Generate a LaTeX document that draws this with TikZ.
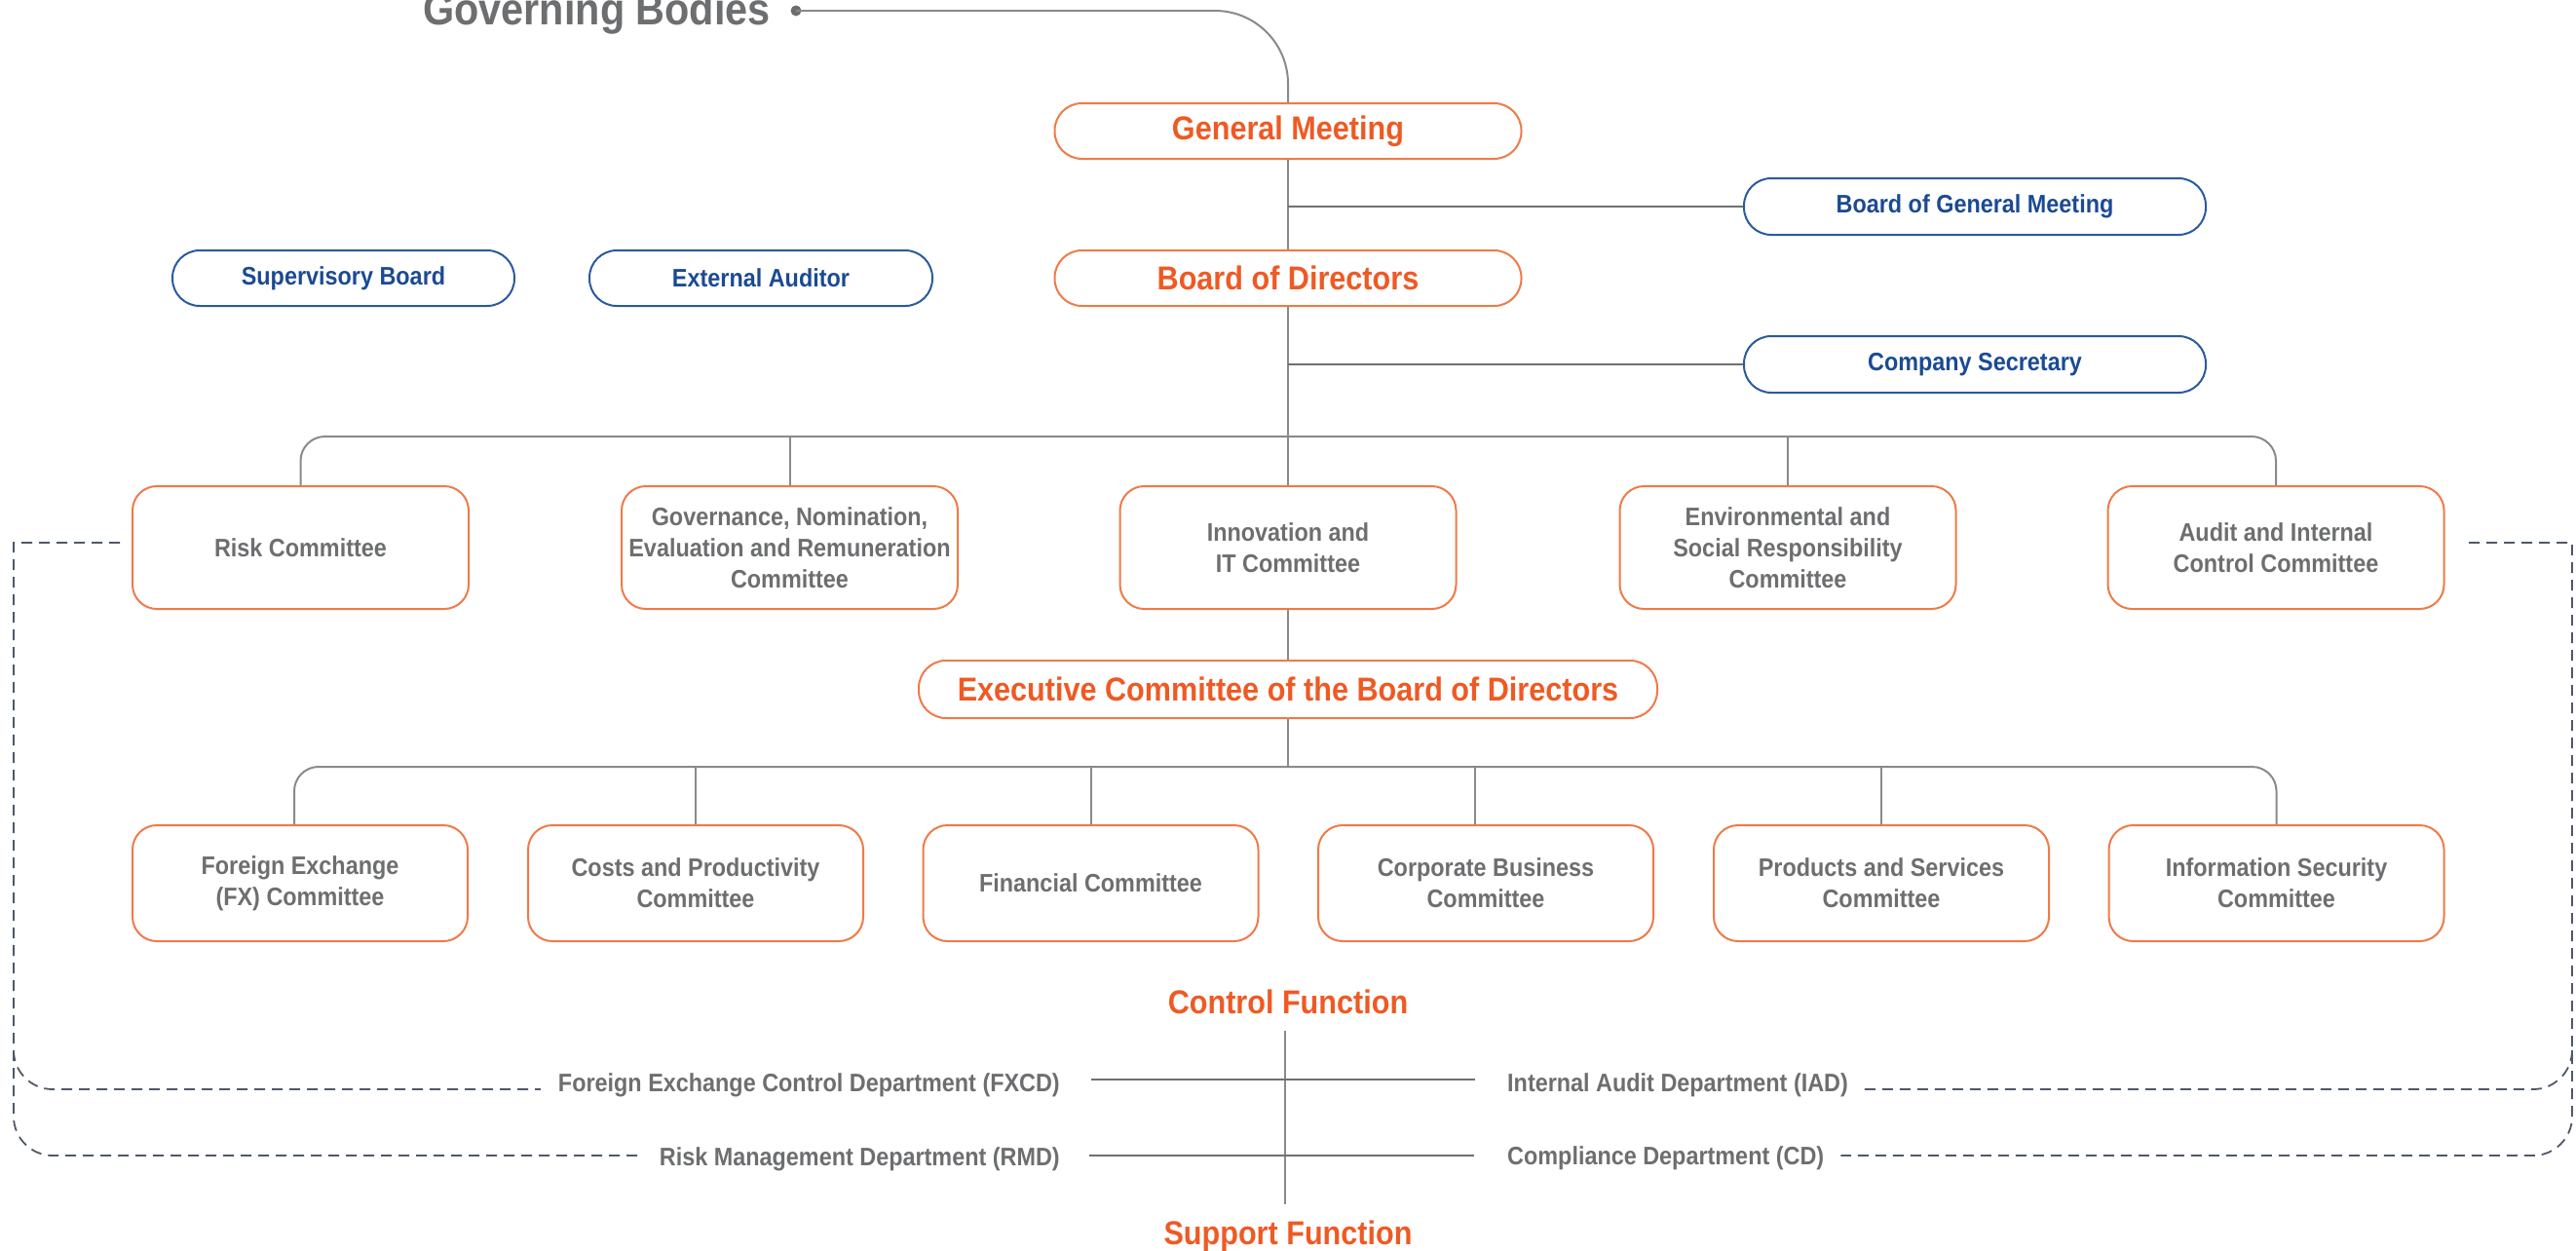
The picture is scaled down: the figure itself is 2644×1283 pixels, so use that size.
\documentclass[tikz,border=0pt]{standalone}
\usepackage{fontspec}
\setmainfont{Liberation Sans}[FakeStretch=0.9]
\usetikzlibrary{calc}
\definecolor{orgtxt}{HTML}{EE5A24}
\definecolor{orgline}{HTML}{F07A48}
\definecolor{bluetxt}{HTML}{1B4A93}
\definecolor{blueline}{HTML}{2A5AA0}
\definecolor{greytxt}{HTML}{6D6E70}
\definecolor{conn}{HTML}{8A8A8A}
\definecolor{conndark}{HTML}{707070}
\definecolor{dashc}{HTML}{4F5869}

\begin{document}
\begin{tikzpicture}[x=1pt,y=-1pt,
  headpill/.style={draw=orgline, line width=2pt, rounded corners=28pt,
    minimum width=479pt, minimum height=57pt, inner sep=0pt,
    text=orgtxt, font=\fontsize{34}{40}\selectfont\bfseries},
  bluepill/.style={draw=blueline, line width=2pt, rounded corners=28pt,
    minimum width=474pt, minimum height=58pt, inner sep=0pt,
    text=bluetxt, font=\fontsize{26}{32}\selectfont\bfseries},
  cbox/.style={draw=orgline, line width=2pt, rounded corners=25pt,
    minimum width=345pt, minimum height=126pt, inner sep=0pt, align=center,
    text=greytxt, font=\fontsize{26}{32}\selectfont\bfseries},
  lbox/.style={cbox, minimum width=344pt, minimum height=119pt},
  heading/.style={text=orgtxt, inner sep=0pt, font=\fontsize{34}{40}\selectfont\bfseries},
  dept/.style={text=greytxt, inner sep=0pt, font=\fontsize{26}{32}\selectfont\bfseries},
  link/.style={draw=conn, line width=2pt},
  linkdark/.style={draw=conndark, line width=2.2pt},
  dashlink/.style={draw=dashc, line width=1.8pt, dash pattern=on 11pt off 7pt},
]
\useasboundingbox (0,0) rectangle (2644,1283);

% title with its marker dot
\node[anchor=base east, inner sep=0pt, text=greytxt,
      font=\fontsize{46}{52}\selectfont\bfseries] (gb) at (791,25) {Governing Bodies};
\node[circle, fill=greytxt, inner sep=0pt, minimum size=11pt] (gbdot) at (817,11) {};

% top of the hierarchy
\node[headpill] (gm)  at (1322,134.5) {General Meeting};
\node[headpill] (bod) at (1322,285.5) {Board of Directors};
\node[bluepill] (bogm) at (2027,212) {Board of General Meeting};
\node[bluepill] (cosec) at (2027,374) {Company Secretary};
\node[bluepill, minimum width=351pt, minimum height=57pt] (sup) at (352.5,285.5) {Supervisory Board};
\node[bluepill, minimum width=352pt, minimum height=57pt] (ext) at (781,285.5) {External Auditor};

% board committees
\node[cbox] (risk)  at (308.5,562) {Risk Committee};
\node[cbox] (gov)   at (810.5,562) {Governance, Nomination,\\Evaluation and Remuneration\\Committee};
\node[cbox] (innov) at (1322,562) {Innovation and\\IT Committee};
\node[cbox] (env)   at (1835,562) {Environmental and\\Social Responsibility\\Committee};
\node[cbox] (audit) at (2336,562) {Audit and Internal\\Control Committee};

% executive committee and its committees
\node[headpill, minimum width=758pt, minimum height=59pt] (exec) at (1322,707.5) {Executive Committee of the Board of Directors};
\node[lbox] (fx)    at (308,906.5)  {Foreign Exchange\\(FX) Committee};
\node[lbox] (costs) at (714,906.5)  {Costs and Productivity\\Committee};
\node[lbox] (fin)   at (1119.5,906.5) {Financial Committee};
\node[lbox] (corp)  at (1525,906.5) {Corporate Business\\Committee};
\node[lbox] (prod)  at (1931,906.5) {Products and Services\\Committee};
\node[lbox] (infos) at (2336.5,906.5) {Information Security\\Committee};

% control / support functions
\node[heading, anchor=base] (ctrl) at (1322,1040) {Control Function};
\node[heading, anchor=base] (supp) at (1322,1277) {Support Function};
\node[dept, anchor=base east] (fxcd) at (1088,1120) {Foreign Exchange Control Department (FXCD)};
\node[dept, anchor=base east] (rmd)  at (1088,1196) {Risk Management Department (RMD)};
\node[dept, anchor=base west] (iad)  at (1547,1120) {Internal Audit Department (IAD)};
\node[dept, anchor=base west] (cd)   at (1547,1195) {Compliance Department (CD)};

% junction points
\coordinate (busA) at (1322,448);
\coordinate (busB) at (1322,787);
\coordinate (axTop) at (1319,1058);
\coordinate (axBot) at (1319,1236);
\coordinate (rowA1) at (1120,1108);
\coordinate (rowA2) at (1514,1108);
\coordinate (rowB1) at (1118,1186);
\coordinate (rowB2) at (1513,1186);
\coordinate (dL) at (123,557);
\coordinate (dR) at (2534,557);

% solid connectors
\draw[link, rounded corners=75pt] (gbdot.center) -| (gm.north);
\draw[link] (gm.south) -- (bod.north);
\draw[linkdark] (gm.south |- bogm.west) -- (bogm.west);
\draw[link] (bod.south) -- (innov.north);
\draw[linkdark] (bod.south |- cosec.west) -- (cosec.west);
\draw[link, rounded corners=25pt] (risk.north) |- (busA) -| (audit.north);
\draw[link] (gov.north) -- (gov.north |- busA);
\draw[link] (env.north) -- (env.north |- busA);
\draw[link] (innov.south) -- (exec.north);
\draw[link] (exec.south) -- (busB);
\draw[link, rounded corners=25pt] ([xshift=-6pt]fx.north) |- (busB) -| (infos.north);
\draw[link] (costs.north) -- (costs.north |- busB);
\draw[link] (fin.north) -- (fin.north |- busB);
\draw[link] ([xshift=-11pt]corp.north) -- ([xshift=-11pt]corp.north |- busB);
\draw[link] (prod.north) -- (prod.north |- busB);

\draw[link] (axTop) -- (axBot);
\draw[linkdark] (rowA1) -- (rowA2);
\draw[linkdark] (rowB1) -- (rowB2);

% dashed reporting lines
\draw[dashlink] (dL) -- (14,557) -- (14,1146)
  .. controls (14,1168) and (32,1186) .. (54,1186)
  -- ($(rmd.base west)+(-20,-10)$);
\draw[dashlink] (14,1078) .. controls (14,1100) and (32,1118) .. (54,1118)
  -- ($(fxcd.base west)+(-18,-2)$);
\draw[dashlink] (dR) -- (2640,557) -- (2640,1146)
  .. controls (2640,1168) and (2622,1186) .. (2600,1186)
  -- ($(cd.base east)+(17,-9)$);
\draw[dashlink] (2640,1078) .. controls (2640,1100) and (2622,1118) .. (2600,1118)
  -- ($(iad.base east)+(15,-2)$);
\end{tikzpicture}
\end{document}
